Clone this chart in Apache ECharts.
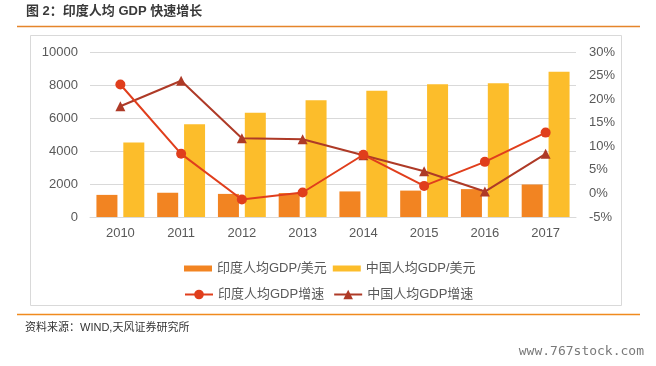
<!DOCTYPE html>
<html>
<head>
<meta charset="utf-8">
<script src="https://cdn.jsdelivr.net/npm/echarts@6/dist/echarts.min.js"></script>
<style>
html,body{margin:0;padding:0;background:#fff;}
#chart{width:656px;height:366px;}
</style>
</head>
<body>
<div id="chart"></div>
<script>
var years = ['2010','2011','2012','2013','2014','2015','2016','2017'];
var indiaGdp = [1340, 1470, 1400, 1450, 1550, 1600, 1690, 1970];
var chinaGdp = [4520, 5620, 6320, 7070, 7650, 8050, 8110, 8810];
var indiaGrowth = [23.1, 8.4, -1.3, 0.2, 8.2, 1.6, 6.7, 12.9];
var chinaGrowth = [18.5, 23.9, 11.7, 11.5, 8.1, 4.7, 0.4, 8.4];
var leftTicks = {min: 0, max: 10000, interval: 2000};
var rightTicks = {min: -5, max: 30, interval: 5};

var FONT = '"Liberation Sans", Arial, "Noto Sans CJK SC", sans-serif';
var chart = echarts.init(document.getElementById('chart'));
var option = {
  backgroundColor: '#fff',
  animation: false,
  textStyle: {fontFamily: FONT},
  graphic: [
    {type: 'text', left: 26, top: 5, style: {text: '图 2：印度人均 GDP 快速增长', font: 'bold 13px ' + FONT, fill: '#3a3a3a'}},
    {type: 'line', shape: {x1: 17, y1: 26.5, x2: 640, y2: 26.5}, style: {stroke: '#E5852B', lineWidth: 1.5}},
    {type: 'rect', shape: {x: 30.5, y: 35.5, width: 591, height: 270}, style: {fill: 'none', stroke: '#D9D9D9', lineWidth: 1}},
    {type: 'line', shape: {x1: 17, y1: 314.5, x2: 640, y2: 314.5}, style: {stroke: '#F08A1E', lineWidth: 1.5}},
    {type: 'text', left: 25, top: 322, style: {text: '资料来源：WIND,天风证券研究所', font: '11px ' + FONT, fill: '#333'}},
    {type: 'text', right: 12, top: 345, style: {text: 'www.767stock.com', font: '13px "DejaVu Sans Mono", monospace', fill: '#7a7a7a'}}
  ],
  grid: {left: 90, right: 80, top: 52, bottom: 149, containLabel: false},
  legend: [
    {data: ['印度人均GDP/美元', '中国人均GDP/美元'], left: 179, top: 257, itemWidth: 28, itemHeight: 6, itemGap: 6,
     icon: 'rect', textStyle: {fontSize: 13, color: '#595959', fontFamily: FONT}},
    {data: ['印度人均GDP增速', '中国人均GDP增速'], left: 179, top: 283, itemWidth: 28, itemHeight: 12, itemGap: 9,
     textStyle: {fontSize: 13, color: '#595959', fontFamily: FONT}}
  ],
  xAxis: {
    type: 'category', data: years,
    axisLine: {show: true, lineStyle: {color: '#D9D9D9'}},
    axisTick: {show: false},
    axisLabel: {color: '#595959', fontSize: 13, margin: 10}
  },
  yAxis: [
    {type: 'value', min: leftTicks.min, max: leftTicks.max, interval: leftTicks.interval,
     axisLine: {show: false}, axisTick: {show: false},
     axisLabel: {color: '#595959', fontSize: 13, margin: 12, formatter: function (v) { return String(v); }},
     splitLine: {lineStyle: {color: '#D9D9D9'}}},
    {type: 'value', min: rightTicks.min, max: rightTicks.max, interval: rightTicks.interval,
     axisLine: {show: false}, axisTick: {show: false},
     axisLabel: {color: '#595959', fontSize: 13, margin: 13, formatter: '{value}%'},
     splitLine: {show: false}}
  ],
  series: [
    {name: '印度人均GDP/美元', type: 'bar', data: indiaGdp, barWidth: 21, barGap: '28%',
     itemStyle: {color: '#F28422'}},
    {name: '中国人均GDP/美元', type: 'bar', data: chinaGdp, barWidth: 21,
     itemStyle: {color: '#FCBD2B'}},
    {name: '印度人均GDP增速', type: 'line', yAxisIndex: 1, data: indiaGrowth, z: 4,
     symbol: 'circle', symbolSize: 10, lineStyle: {color: '#E03E1C', width: 2},
     itemStyle: {color: '#E03E1C'}},
    {name: '中国人均GDP增速', type: 'line', yAxisIndex: 1, data: chinaGrowth, z: 3,
     symbol: 'triangle', symbolSize: 10, lineStyle: {color: '#AE3A27', width: 2},
     itemStyle: {color: '#AE3A27'}}
  ]
};
chart.setOption(option);
</script>
</body>
</html>
